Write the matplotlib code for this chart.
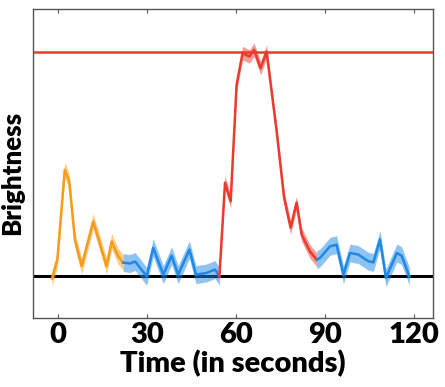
import numpy as np
import matplotlib.pyplot as plt

plt.rcParams['font.family'] = ['Lato', 'DejaVu Sans']

# orange segment (start)
t_orange = [-2.0, -0.2, 2.3, 3.8, 5.7, 8.0, 11.9, 16.4, 18.1, 20.3, 22.0]
y_orange = [-0.013, 0.071, 0.473, 0.421, 0.161, 0.042, 0.242, 0.042, 0.153, 0.086, 0.058]

# blue segment 1
t_blue1 = [22.0, 24.3, 26.0, 29.9, 32.1, 35.5, 38.3, 40.5, 44.3, 46.5, 50.1, 52.9, 54.4]
y_blue1 = [0.058, 0.054, 0.063, -0.003, 0.124, 0.004, 0.089, 0.004, 0.116, 0.004, 0.012, 0.027, -0.003]

# red segment
t_red = [54.4, 56.3, 58.2, 60.2, 62.2, 64.5, 66.1, 68.3, 70.3, 73.7, 76.2, 78.4, 80.4, 82.1, 84.9, 87.2]
y_red = [-0.003, 0.415, 0.332, 0.853, 0.994, 0.979, 1.009, 0.927, 1.001, 0.644, 0.348, 0.214, 0.326, 0.183, 0.108, 0.071]

# blue segment 2
t_blue2 = [87.2, 88.3, 91.7, 93.9, 96.2, 98.4, 101.2, 104.6, 106.3, 108.5, 110.5, 114.2, 115.8, 118.4]
y_blue2 = [0.071, 0.079, 0.131, 0.138, 0.004, 0.101, 0.094, 0.064, 0.059, 0.161, -0.010, 0.101, 0.089, -0.003]

err_orange = 0.035
err_blue = 0.04
err_red = 0.03

orange = '#f59c1a'
blue = '#1e88e5'
red = '#ec3a2f'

fig = plt.figure(figsize=(4.45, 3.87), dpi=100)
ax = fig.add_axes([0.0742, 0.178, 0.899, 0.798])

ax.axhline(0, color='black', lw=2.2, zorder=1)
ax.axhline(1, color=red, lw=1.8, zorder=1)

for t, y, e, c in [(t_orange, y_orange, err_orange, orange),
                   (t_blue1, y_blue1, err_blue, blue),
                   (t_red, y_red, err_red, red),
                   (t_blue2, y_blue2, err_blue, blue)]:
    t = np.array(t)
    y = np.array(y)
    ax.fill_between(t, y - e, y + e, color=c, alpha=0.5, lw=0, zorder=2)
    ax.plot(t, y, color=c, lw=1.8, zorder=3)

ax.set_xlim(-8.4, 126.4)
ax.set_ylim(-0.19, 1.19)
ax.set_xticks([0, 30, 60, 90, 120])
ax.set_yticks([])
ax.tick_params(axis='x', direction='in', length=3, top=True, labelsize=21, pad=3, color='#555555')
for lab in ax.get_xticklabels():
    lab.set_fontweight('heavy')
for s in ax.spines.values():
    s.set_color('#555555')
    s.set_linewidth(1)

ax.set_xlabel('Time (in seconds)', fontsize=21, fontweight='heavy', labelpad=1)
ax.set_ylabel('Brightness', fontsize=18.5, fontweight='heavy')
ax.yaxis.set_label_coords(-0.022, 0.47)

fig.savefig('out.png', dpi=100)
